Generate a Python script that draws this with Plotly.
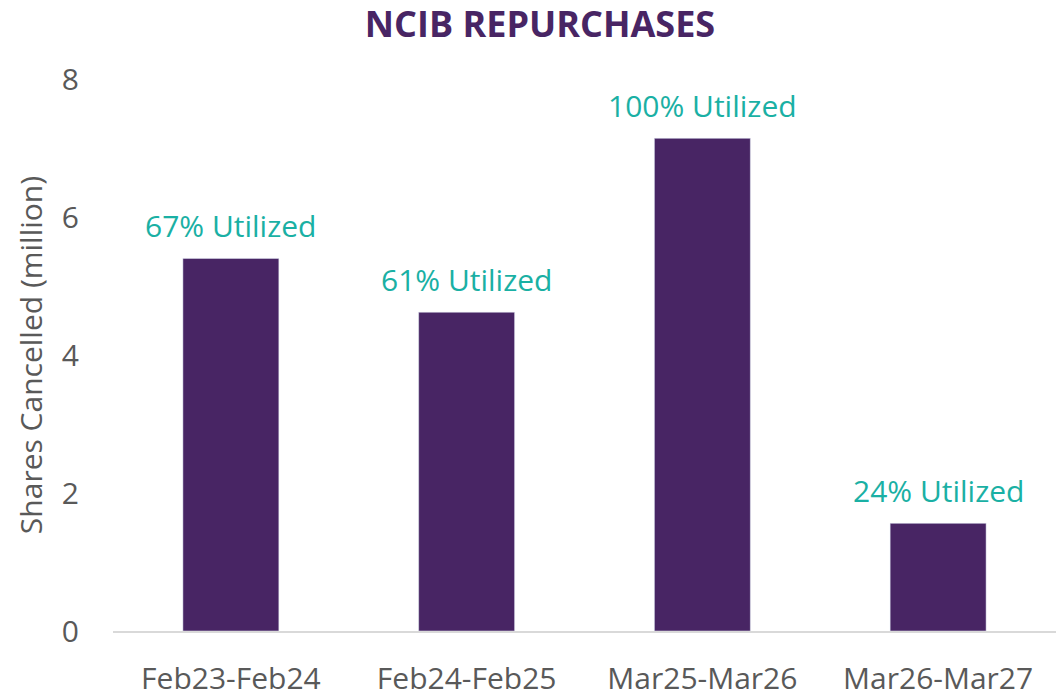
import plotly.graph_objects as go

# --- chart data ---
periods = ["Feb23-Feb24", "Feb24-Feb25", "Mar25-Mar26", "Mar26-Mar27"]
shares_cancelled = [5.40, 4.62, 7.14, 1.56]
utilization = ["67% Utilized", "61% Utilized", "100% Utilized", "24% Utilized"]
y_ticks = [0, 2, 4, 6, 8]

PURPLE = "#482564"
TEAL = "#1AB0A4"
GREY_TEXT = "#595959"
FONT = "Open Sans, Noto Sans, sans-serif"

fig = go.Figure(
    go.Bar(
        x = periods,
        y = shares_cancelled,
        marker = {"color": PURPLE},
        hoverinfo = "x+y",
    )
)

# utilization labels sit a little higher above the bars than plotly's outside text
for period, value, label in zip(periods, shares_cancelled, utilization):
    fig.add_annotation(
        x = period,
        y = value,
        text = label,
        showarrow = False,
        yanchor = "bottom",
        yshift = 10,
        font = {"color": TEAL, "size": 30, "family": FONT},
    )

fig.update_layout(
    width = 1056,
    height = 694,
    margin = {"l": 113, "r": 0, "t": 79, "b": 63},
    paper_bgcolor = "white",
    plot_bgcolor = "white",
    bargap = 0.593,
    showlegend = False,
    font = {"family": FONT, "color": GREY_TEXT},
    title = {
        "text": "<b>NCIB REPURCHASES</b>",
        "x": 540 / 1056,
        "xanchor": "center",
        "y": 1 - 24 / 694,
        "yanchor": "middle",
        "font": {"size": 36, "color": PURPLE, "family": FONT},
    },
)

fig.update_xaxes(
    automargin = False,
    showline = True,
    linecolor = "#D9D9D9",
    linewidth = 2,
    ticks = "",
    tickfont = {"size": 30, "color": GREY_TEXT},
    ticklabelstandoff = 20,
    showgrid = False,
)

fig.update_yaxes(
    range = [0, 8],
    tickvals = y_ticks,
    showgrid = False,
    zeroline = False,
    showline = False,
    tickfont = {"size": 30, "color": GREY_TEXT},
    ticklabelstandoff = 33,
    title = {"text": "Shares Cancelled (million)", "font": {"size": 30, "color": GREY_TEXT}, "standoff": 10},
)

# drop the browser's default body margin so the figure fills the window exactly
fig.write_html(
    "out.html",
    config = {"displayModeBar": False},
    post_script = "document.body.style.margin = '0';",
)
